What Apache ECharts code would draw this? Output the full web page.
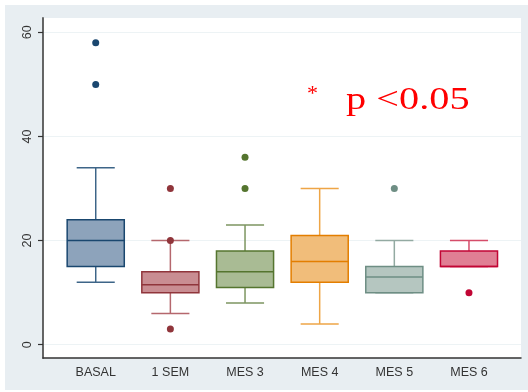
<!DOCTYPE html>
<html>
<head>
<meta charset="utf-8">
<script src="https://cdn.jsdelivr.net/npm/echarts@6/dist/echarts.min.js"></script>
<style>html,body{margin:0;padding:0;background:#fff;}#c{width:528px;height:392px;}</style>
</head>
<body>
<div id="c"></div>
<script>
var categories = ['BASAL', '1 SEM', 'MES 3', 'MES 4', 'MES 5', 'MES 6'];
var lowWhisker = [12, 6, 8, 4, 10, 15];
var q1Values = [15, 10, 11, 12, 10, 15];
var medianValues = [20, 11.5, 14, 16, 13, 15];
var q3Values = [24, 14, 18, 21, 15, 18];
var highWhisker = [34, 20, 23, 30, 20, 20];
var outlierValues = [[58, 50], [30, 20, 3], [36, 30], [], [30], [10]];
var yTicks = [0, 20, 40, 60];

var strokeColors = ['#1a476f', '#90353b', '#55752f', '#e37e00', '#6e8e84', '#c10534'];
var fillColors = ['#8da3bb', '#c98d92', '#a9bb94', '#f1bd7a', '#b5c6c0', '#e07f94'];
var whiskerColors = ['#3d6588', '#b5676d', '#7d9560', '#eea546', '#93aaa2', '#d54d6a'];

var boxData = categories.map(function (c, i) {
  return [i, lowWhisker[i], q1Values[i], medianValues[i], q3Values[i], highWhisker[i]];
});
var outlierData = [];
outlierValues.forEach(function (arr, i) {
  arr.forEach(function (v) { outlierData.push([i, v]); });
});

var yMin = -2.55, yMax = 62.75;
var chart = echarts.init(document.getElementById('c'), null, {renderer: 'canvas'});
chart.setOption({
  backgroundColor: '#ffffff',
  animation: false,
  graphic: [
    {type: 'rect', z: -100, shape: {x: 5, y: 5, width: 523, height: 385}, style: {fill: '#e8eef2'}, silent: true},
    {type: 'text', z: 100, x: 307, y: 94, style: {text: '*', font: '22px "Liberation Serif"', fill: '#ff0000', align: 'left', verticalAlign: 'middle'}},
    {type: 'text', z: 100, x: 346, y: 101, scaleX: 1.26, style: {text: 'p <0.05', font: '32px "Liberation Serif"', fill: '#ff0000', align: 'left', verticalAlign: 'middle'}}
  ],
  grid: [
    {left: 43, right: 7, top: 18, bottom: 34, show: true, backgroundColor: '#ffffff', borderWidth: 0},
    {left: 58.4, right: 21.7, top: 18, bottom: 34}
  ],
  xAxis: [
    {gridIndex: 0, type: 'value', min: 0, max: 1, axisLine: {show: true, onZero: false, lineStyle: {color: '#333', width: 1.5}},
     axisTick: {show: false}, axisLabel: {show: false}, splitLine: {show: false}},
    {gridIndex: 1, type: 'category', data: categories, axisLine: {show: false}, axisTick: {show: false},
     axisLabel: {color: '#333', fontSize: 12.5, fontFamily: '"Liberation Sans", Arial', margin: 8}, splitLine: {show: false}}
  ],
  yAxis: [
    {gridIndex: 0, type: 'value', min: yMin, max: yMax,
     axisLine: {show: true, lineStyle: {color: '#555', width: 1.8}},
     axisTick: {show: true, length: 5, customValues: yTicks, lineStyle: {color: '#333', width: 1.2}},
     axisLabel: {customValues: yTicks, rotate: 90, color: '#333', fontSize: 12.5, fontFamily: '"Liberation Sans", Arial', margin: 9},
     splitLine: {show: true, lineStyle: {color: '#edf3f5', width: 1.2}}},
    {gridIndex: 1, type: 'value', min: yMin, max: yMax, show: false, splitLine: {show: false}}
  ],
  series: [
    {
      type: 'custom', xAxisIndex: 1, yAxisIndex: 1, data: boxData, z: 5,
      renderItem: function (params, api) {
        var x = api.value(0);
        var lo = api.coord([x, api.value(1)]);
        var q1 = api.coord([x, api.value(2)]);
        var md = api.coord([x, api.value(3)]);
        var q3 = api.coord([x, api.value(4)]);
        var hi = api.coord([x, api.value(5)]);
        var bw = api.size([1, 0])[0];
        var boxW = bw * 0.765, capW = bw * 0.51;
        var cx = lo[0];
        var i = params.dataIndex;
        var st = strokeColors[i], wc = whiskerColors[i];
        var lw = 1.5;
        return {type: 'group', children: [
          {type: 'line', shape: {x1: cx, y1: hi[1], x2: cx, y2: q3[1]}, style: {stroke: wc, lineWidth: lw}},
          {type: 'line', shape: {x1: cx - capW / 2, y1: hi[1], x2: cx + capW / 2, y2: hi[1]}, style: {stroke: wc, lineWidth: lw}},
          {type: 'line', shape: {x1: cx, y1: lo[1], x2: cx, y2: q1[1]}, style: {stroke: wc, lineWidth: lw}},
          {type: 'line', shape: {x1: cx - capW / 2, y1: lo[1], x2: cx + capW / 2, y2: lo[1]}, style: {stroke: wc, lineWidth: lw}},
          {type: 'rect', shape: {x: cx - boxW / 2, y: q3[1], width: boxW, height: q1[1] - q3[1]}, style: {fill: fillColors[i], stroke: st, lineWidth: lw}},
          {type: 'line', shape: {x1: cx - boxW / 2, y1: md[1], x2: cx + boxW / 2, y2: md[1]}, style: {stroke: st, lineWidth: lw}}
        ]};
      }
    },
    {
      type: 'scatter', xAxisIndex: 1, yAxisIndex: 1, data: outlierData, symbolSize: 7, z: 6,
      itemStyle: {opacity: 1, color: function (p) { return strokeColors[p.data[0]]; }}
    }
  ]
});
</script>
</body>
</html>
